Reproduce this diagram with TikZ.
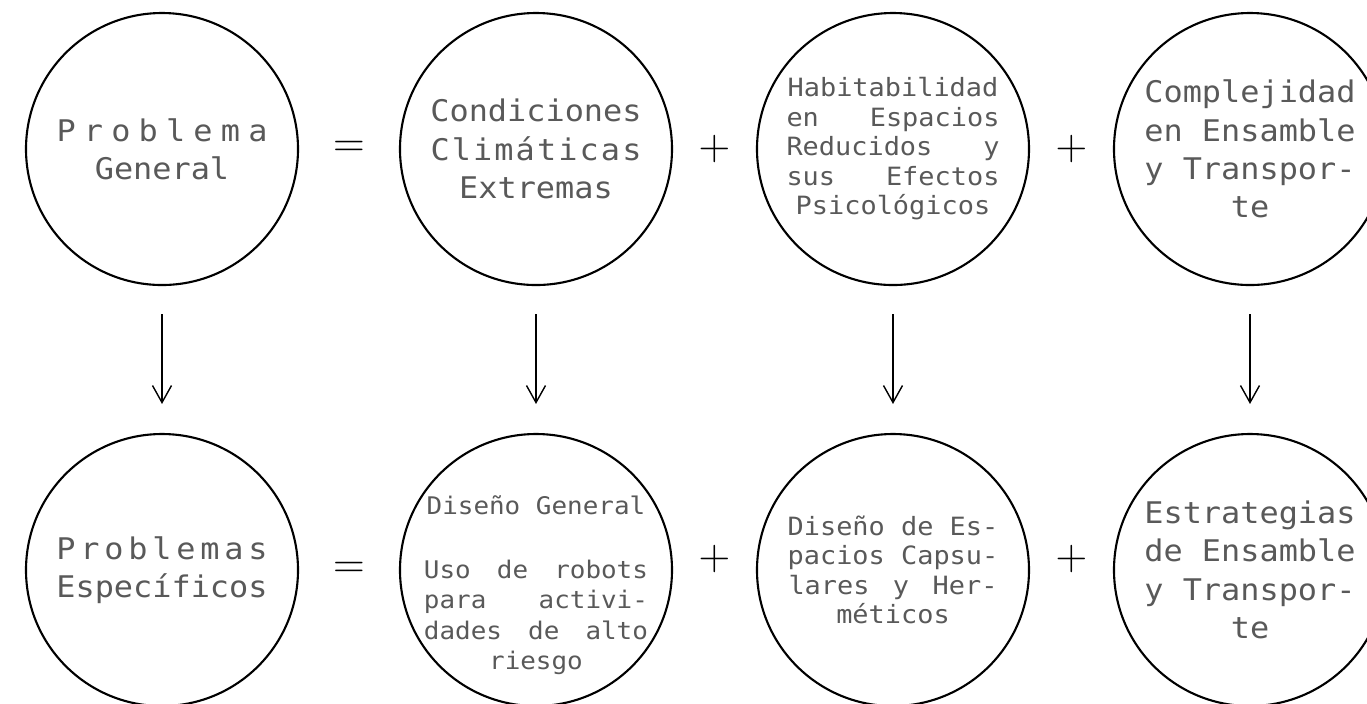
\documentclass[tikz,border=0pt]{standalone}
\usepackage{fontspec}
\usetikzlibrary{arrows.meta,calc}
\newfontfamily\labelfont[FakeStretch=1.07]{DejaVu Sans Mono}

\tikzset{
  problem/.style={circle, draw, line width=0.6pt, minimum size=2.72cm, inner sep=-1cm, align=center, text=black!65},
  big/.style={font=\labelfont\fontsize{8.48}{10.9}\selectfont},
  small/.style={font=\labelfont\fontsize{7.16}{8.4}\selectfont},
  sign/.style={font=\fontsize{13}{13}\selectfont}
}
\newcommand{\jl}[2]{\makebox[#1]{#2}}

\begin{document}
\begin{tikzpicture}[->,>={Straight Barb[length=1.7mm,width=1.9mm]},shorten >=2.9mm,shorten <=2.8mm,thin,node distance=3.57cm]
  \useasboundingbox (0,0) rectangle (13.67,-7.03);

  % problema general
  \node [problem, big] (gen) at (1.62,-1.49) {\jl{2.11cm}{P\hfill r\hfill o\hfill b\hfill l\hfill e\hfill m\hfill a}\\General};
  \node [problem, big] (clima) [right of = gen, node distance=3.74cm] {Condiciones\\\jl{2.11cm}{C\hfill l\hfill i\hfill m\hfill á\hfill t\hfill i\hfill c\hfill a\hfill s}\\Extremas};
  \node [problem, small] (habit) [right of = clima] {Habitabilidad\\\jl{2.13cm}{en\hfill Espacios}\\\jl{2.13cm}{Reducidos\hfill y}\\\jl{2.13cm}{sus\hfill Efectos}\\Psicológicos};
  \node [problem, big] (ensam) [right of = habit] {Complejidad\\en Ensamble\\y Transpor-\\te};

  % problemas especificos
  \node [problem, big] (esp) [below of = gen, node distance=4.21cm] {\jl{2.11cm}{P\hfill r\hfill o\hfill b\hfill l\hfill e\hfill m\hfill a\hfill s}\\Específicos};
  \node [problem, font=\labelfont\fontsize{6.9}{8.7}\selectfont] (robot) [below of = clima, node distance=4.21cm] {\rule{0pt}{14pt}Diseño General\\[9.5pt]\jl{2.24cm}{Uso\hfill de\hfill robots}\\\jl{2.24cm}{para\hfill activi-}\\\jl{2.24cm}{dades\hfill de\hfill alto}\\riesgo};
  \node [problem, small] (capsu) [below of = habit, node distance=4.21cm] {Diseño de Es-\\pacios Capsu-\\\jl{2.09cm}{lares\hfill y\hfill Her-}\\méticos};
  \node [problem, big] (estra) [below of = ensam, node distance=4.21cm] {Estrategias\\de Ensamble\\y Transpor-\\te};

  \node [sign] (eq1) at ($(gen)!.5!(clima)$) {$=$};
  \node [sign] (plus1) at ($(clima)!.5!(habit)$) {$+$};
  \node [sign] (plus2) at ($(habit)!.5!(ensam)$) {$+$};
  \node [sign] (eq2) at ($(esp)!.5!(robot)$) {$=$};
  \node [sign, yshift=1.1mm] (plus3) at ($(robot)!.5!(capsu)$) {$+$};
  \node [sign, yshift=1.1mm] (plus4) at ($(capsu)!.5!(estra)$) {$+$};

  \draw (gen) -- (esp);
  \draw (clima) -- (robot);
  \draw (habit) -- (capsu);
  \draw (ensam) -- (estra);
\end{tikzpicture}
\end{document}
